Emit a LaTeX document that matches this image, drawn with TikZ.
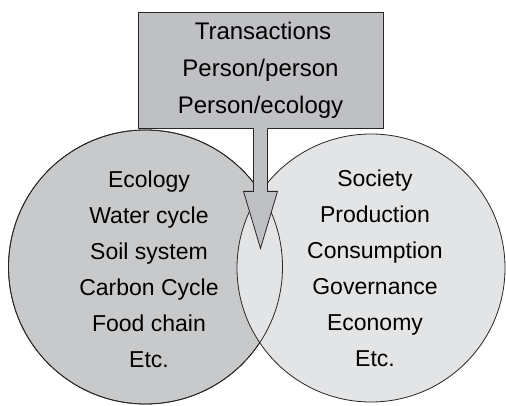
\documentclass[tikz,border=0pt]{standalone}
\usepackage{fontspec}
\setmainfont{Liberation Sans}
\definecolor{boxgray}{HTML}{BFC0C3}
\definecolor{ecologygray}{HTML}{C8C9CB}
\definecolor{societygray}{HTML}{E3E4E6}
\colorlet{linecolor}{black!85}
\newcommand{\circletext}{\fontsize{23}{36}\selectfont}
\newcommand{\boxtext}{\fontsize{24}{37}\selectfont}

\begin{document}
\begin{tikzpicture}[x=1pt, y=-1pt, line width=0.8pt]
        \useasboundingbox (0,0) rectangle (506,406);

        \node (E) [circle, draw=linecolor, fill=ecologygray, minimum size=274pt, inner sep=0pt] at (145.5,267) {};
        \node (S) [circle, draw=linecolor, fill=societygray, minimum size=268pt, inner sep=0pt] at (371,268) {};
        \node (Erim) [circle, draw=linecolor, minimum size=274pt, inner sep=0pt] at (E) {};

        \node (Etext) [align=center, font=\circletext, xshift=3.5pt, yshift=-2pt] at (E) {Ecology\\Water cycle\\Soil system\\Carbon Cycle\\Food chain\\Etc.};
        \node (Stext) [align=center, font=\circletext, xshift=4pt, yshift=-0.5pt] at (S) {Society\\Production\\Consumption\\Governance\\Economy\\Etc.};

        \node (T) [draw=linecolor, fill=boxgray, minimum width=245pt, minimum height=116pt, inner sep=0pt, align=center, font=\boxtext, text width=245pt] at (260.5,70) {\hspace*{5pt}Transactions\\Person/person\\Person/ecology};

        \coordinate (tip) at ([yshift=-120pt]T.south);
        \fill [boxgray] ([xshift=-7pt, yshift=1pt]T.south) -- ++(0,64) -- ++(-10,0) -- (tip) -- ++(17,-57) -- ++(-10,0) -- ([xshift=7pt, yshift=1pt]T.south) -- cycle;
        \draw [linecolor] ([xshift=-7pt]T.south) -- ++(0,63) -- ++(-10,0) -- (tip) -- ++(17,-57) -- ++(-10,0) -- ([xshift=7pt]T.south);
\end{tikzpicture}
\end{document}
